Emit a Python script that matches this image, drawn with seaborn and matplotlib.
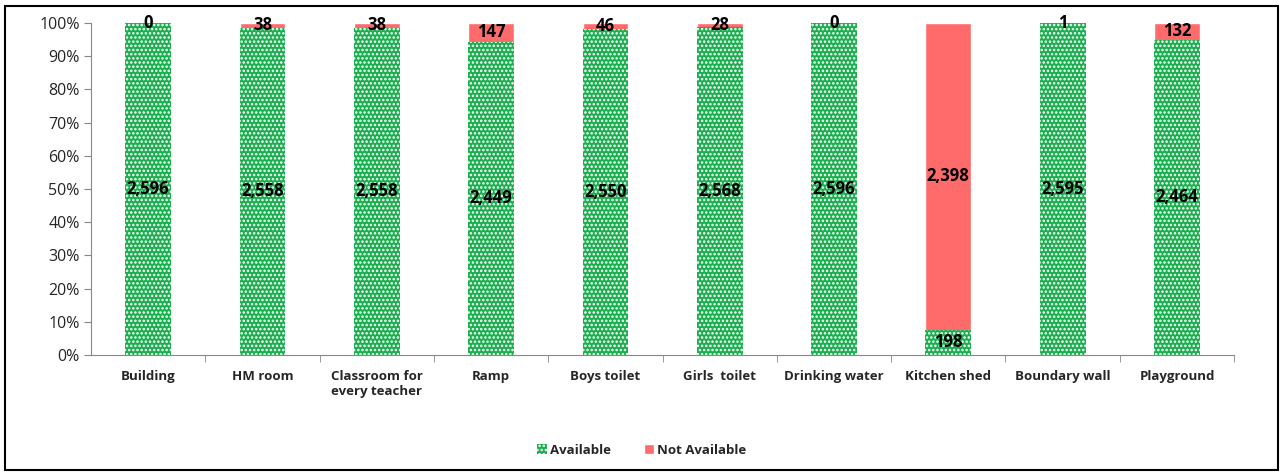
import seaborn as sns
import matplotlib.pyplot as plt
import pandas as pd
from matplotlib.patches import Rectangle, Patch
from matplotlib.ticker import PercentFormatter

# data
categories = ['Building', 'HM room', 'Classroom for\nevery teacher', 'Ramp', 'Boys toilet',
              'Girls  toilet', 'Drinking water', 'Kitchen shed', 'Boundary wall', 'Playground']
available = [2596, 2558, 2558, 2449, 2550, 2568, 2596, 198, 2595, 2464]
not_available = [0, 38, 38, 147, 46, 28, 0, 2398, 1, 132]

green = '#1AAE4E'
red = '#FF6B6B'

df = pd.DataFrame({'cat': categories, 'avail': available, 'notavail': not_available})
df['total'] = df['avail'] + df['notavail']
df['avail_pct'] = df['avail'] / df['total'] * 100
df['full_pct'] = 100.0

sns.set_style('white')
plt.rcParams['font.family'] = ['Open Sans', 'DejaVu Sans']
plt.rcParams['hatch.linewidth'] = 1.2

fig = plt.figure(figsize=(12.83, 4.75), dpi=100)
ax = fig.add_axes([0.0709, 0.2526, 0.891, 0.699])

sns.barplot(data=df, x='cat', y='full_pct', color=red, width=0.4, saturation=1, ax=ax)
sns.barplot(data=df, x='cat', y='avail_pct', color=green, width=0.4, saturation=1, ax=ax)
n = len(categories)
for p in ax.patches[n:]:
    p.set_hatch('....')
    p.set_edgecolor('white')
    p.set_linewidth(0)

# labels
for i in range(n):
    ap = df['avail_pct'][i]
    ax.text(i, ap / 2, f'{available[i]:,}', ha='center', va='center',
            fontsize=12, fontweight='bold', color='black')
    ax.text(i, ap + (100 - ap) / 2, f'{not_available[i]:,}', ha='center', va='center',
            fontsize=12, fontweight='bold', color='black')

ax.set_ylim(0, 100)
ax.set_xlim(-0.5, n - 0.5)
ax.set_yticks(range(0, 101, 10))
ax.yaxis.set_major_formatter(PercentFormatter(decimals=0))
ax.tick_params(axis='y', labelsize=11.5, length=5, color='#888888', left=True, pad=3)
ax.set_xticks(range(n))
ax.set_xticklabels(categories, fontsize=9.5, fontweight='bold')
ax.set_xticks([i - 0.5 for i in range(1, n + 1)], minor=True)
ax.tick_params(axis='x', which='major', length=0, pad=11)
ax.tick_params(axis='x', which='minor', length=5, color='#888888', bottom=True)
ax.set_xlabel('')
ax.set_ylabel('')
for s in ['top', 'right']:
    ax.spines[s].set_visible(False)
for s in ['left', 'bottom']:
    ax.spines[s].set_color('#888888')

handles = [Patch(facecolor=green, edgecolor='white', hatch='....', linewidth=0, label='Available'),
           Patch(facecolor=red, label='Not Available')]
leg = fig.legend(handles=handles, loc='center', bbox_to_anchor=(0.5, 0.052), ncol=2, frameon=False,
                 prop={'size': 9.5, 'weight': 'bold'}, handlelength=0.8, handleheight=0.8,
                 handletextpad=0.2, columnspacing=2.5)

fig.patches.append(Rectangle((0.004, 0.01), 0.992, 0.978, transform=fig.transFigure,
                             fill=False, edgecolor='black', linewidth=1.5))

fig.savefig('out.png', dpi=100)
